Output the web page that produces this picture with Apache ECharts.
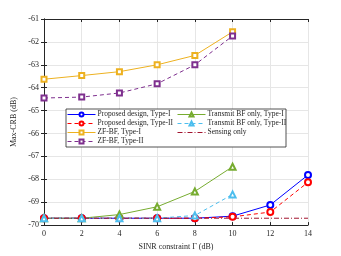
<!DOCTYPE html>
<html><head><meta charset="utf-8">
<script src="https://cdn.jsdelivr.net/npm/echarts@6/dist/echarts.min.js"></script>
<style>html,body{margin:0;padding:0;background:#fff}#c{width:341px;height:256px}</style>
</head><body><div id="c"></div>
<script>
const sinr = [0, 2, 4, 6, 8, 10, 12, 14];
const sinrShort = [0, 2, 4, 6, 8, 10];
const propI = [-69.7, -69.7, -69.7, -69.7, -69.7, -69.61, -69.12, -67.81];
const propII = [-69.7, -69.7, -69.7, -69.7, -69.7, -69.64, -69.43, -68.13];
const zfI = [-63.63, -63.47, -63.3, -63.0, -62.59, -61.56];
const zfII = [-64.45, -64.41, -64.23, -63.83, -63.0, -61.74];
const tbfI = [-69.7, -69.7, -69.54, -69.2, -68.53, -67.45];
const tbfII = [-69.7, -69.7, -69.7, -69.7, -69.58, -68.66];
const sensing = [-69.7, -69.7, -69.7, -69.7, -69.7, -69.7, -69.7, -69.7];
const names = ['Proposed design, Type-I', 'Proposed design, Type-II', 'ZF-BF, Type-I', 'ZF-BF, Type-II',
  'Transmit BF only, Type-I', 'Transmit BF only, Type-II', 'Sensing only'];

const pair = (xs, ys) => xs.map((x, i) => [x, ys[i]]);
const font = 'Liberation Serif';
const axCol = '#262626';

function mk(name, xs, ys, color, symbol, size, dash) {
  return {
    name, type: 'line', data: pair(xs, ys), color,
    symbol, symbolSize: size, showSymbol: symbol !== 'none',
    lineStyle: { width: 1, type: dash || 'solid', color },
    itemStyle: { color, borderColor: color, borderWidth: 1 },
    emphasis: { disabled: true },
    z: 2, animation: false
  };
}

const chart = echarts.init(document.getElementById('c'));
const axBase = {
  type: 'value', axisLine: { show: true, lineStyle: { color: axCol, width: 1 } },
  axisTick: { show: true, inside: true, length: 3, lineStyle: { color: axCol } }
};
const legBase = {
  orient: 'vertical', top: 110.5,
  itemWidth: 28, itemHeight: 5, itemGap: 1, padding: 0,
  lineStyle: { width: 1 },
  textStyle: { fontFamily: font, fontSize: 7.5, color: '#262626', padding: [0, 0, 0, -3] },
  z: 5
};
chart.setOption({
  animation: false,
  grid: { left: 44, right: 33, top: 19, bottom: 29 },
  xAxis: [
    Object.assign({}, axBase, {
      min: 0, max: 14, interval: 2, position: 'bottom',
      name: 'SINR constraint Γ (dB)', nameLocation: 'middle', nameGap: 16,
      nameTextStyle: { fontFamily: font, fontSize: 8, color: axCol },
      axisLabel: { fontFamily: font, fontSize: 8, color: axCol, margin: 5 },
      splitLine: { show: true, lineStyle: { color: '#e6e6e6', width: 1 } }
    }),
    Object.assign({}, axBase, {
      min: 0, max: 14, interval: 2, position: 'top',
      axisLabel: { show: false }, splitLine: { show: false }
    })
  ],
  yAxis: [
    Object.assign({}, axBase, {
      min: -70, max: -61, interval: 1, position: 'left',
      name: 'Max-CRB (dB)', nameLocation: 'middle', nameGap: 16,
      nameTextStyle: { fontFamily: font, fontSize: 8, color: axCol },
      axisLabel: { fontFamily: font, fontSize: 8, color: axCol, margin: 5 },
      splitLine: { show: true, lineStyle: { color: '#e6e6e6', width: 1 } }
    }),
    Object.assign({}, axBase, {
      min: -70, max: -61, interval: 1, position: 'right',
      axisLabel: { show: false }, splitLine: { show: false }
    })
  ],
  graphic: [{
    type: 'rect', shape: { x: 66, y: 109, width: 220, height: 38 },
    style: { fill: '#fff', stroke: '#262626', lineWidth: 0.8 }, z: 3
  }],
  legend: [
    Object.assign({}, legBase, { data: names.slice(0, 4), left: 67 }),
    Object.assign({}, legBase, {
      data: [names[4], names[5], {
        name: names[6],
        itemStyle: { color: 'rgba(0,0,0,0)', borderColor: 'rgba(0,0,0,0)', borderWidth: 0 }
      }],
      left: 177
    })
  ],
  series: [
    mk(names[0], sinr, propI, '#0000ff', 'emptyCircle', 6),
    mk(names[1], sinr, propII, '#ff0000', 'emptyCircle', 6, [4, 3]),
    mk(names[2], sinrShort, zfI, '#EDB120', 'emptyRect', 5),
    mk(names[3], sinrShort, zfII, '#7E2F8E', 'emptyRect', 5, [4, 3]),
    mk(names[4], sinrShort, tbfI, '#77AC30', 'emptyTriangle', 6),
    mk(names[5], sinrShort, tbfII, '#4DBEEE', 'emptyTriangle', 6, [4, 3]),
    mk(names[6], sinr, sensing, '#A2142F', 'none', 0, [5, 2, 1, 2])
  ]
});
</script></body></html>
